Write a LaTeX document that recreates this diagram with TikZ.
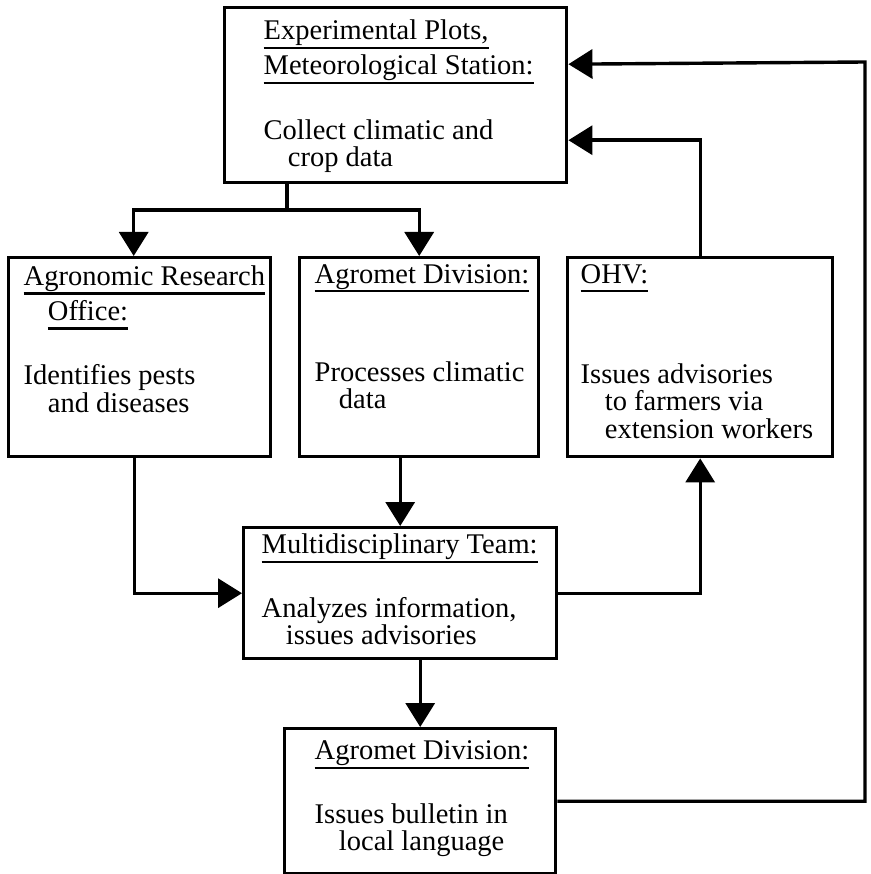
\documentclass[tikz,border=0pt]{standalone}
\usepackage{fontspec}
\setmainfont{Liberation Serif}
\usetikzlibrary{arrows.meta}

% heading line, underlined at a fixed depth
\newcommand{\hd}[1]{\leavevmode\begingroup\setbox0\hbox{#1}%
  \rlap{\vrule height -7pt depth 9.2pt width \wd0}\box0\endgroup}
\newcommand{\ind}{\hspace*{0.85em}}
% box text: width, height, left pad, top pad, lines
\newcommand{\unitbody}[5]{\parbox[t][#2][t]{#1}{\raggedright\leftskip=#3\relax
  \fontsize{28.5}{27.5}\selectfont\lineskiplimit=-50pt\vspace*{#4}#5}}

\begin{document}
\begin{tikzpicture}[x=1pt, y=-1pt,
    unit/.style={draw, line width=3.4pt, anchor=north west, inner sep=0pt},
    link/.style={line width=3.4pt},
    >={Triangle[width=29pt,length=24pt]}]
    \useasboundingbox (0,0) rectangle (870,874);

    \node[unit](plots) at (223, 6) {\unitbody{342pt}{175pt}{39pt}{12.5pt}{%
        \hd{Experimental Plots,}\\[7.5pt]
        \hd{Meteorological Station:}\\[37pt]
        Collect climatic and\\
        \ind crop data}};

    \node[unit](office) at (7, 256) {\unitbody{262pt}{199pt}{15pt}{8pt}{%
        \hd{Agronomic Research}\\[7.5pt]
        \ind\hd{Office:}\\[37pt]
        Identifies pests\\
        \ind and diseases}};

    \node[unit](division) at (298, 256) {\unitbody{239pt}{199pt}{15pt}{6.5pt}{%
        \hd{Agromet Division:}\\[70.5pt]
        Processes climatic\\
        \ind data}};

    \node[unit](ohv) at (566, 256) {\unitbody{265pt}{199pt}{13pt}{6.5pt}{%
        \hd{OHV:}\\[72.5pt]
        Issues advisories\\
        \ind to farmers via\\
        \ind extension workers}};

    \node[unit](team) at (242, 526) {\unitbody{313pt}{131pt}{18pt}{6.5pt}{%
        \hd{Multidisciplinary Team:}\\[36pt]
        Analyzes information,\\
        \ind issues advisories}};

    \node[unit](bulletin) at (283, 727) {\unitbody{271pt}{145pt}{30pt}{12pt}{%
        \hd{Agromet Division:}\\[36pt]
        Issues bulletin in\\
        \ind local language}};

    % data out of the plots
    \coordinate (split) at (287, 210);
    \draw[link] (plots.south -| split) -- (split);
    \draw[link,->] (split) -| ([xshift=-6pt]office.north);
    \draw[link,->] (split) -| (division.north);

    % into the team
    \draw[link,->] ([xshift=-5pt]office.south) |- (team.west);
    \draw[link,->] (division.south -| team.north) -- (team.north);

    % advisories out
    \draw[link,->] (team.east) -| (ohv.south);
    \draw[link,->] (ohv.north) |- ([yshift=-45pt]plots.east);
    \draw[link,->] (team.south -| bulletin.north) -- (bulletin.north);

    % bulletin back to the station
    \coordinate (edge) at (865, 62);
    \draw[link,->] (bulletin.east) -| (edge) -- ([yshift=31pt]plots.east);

\end{tikzpicture}
\end{document}
